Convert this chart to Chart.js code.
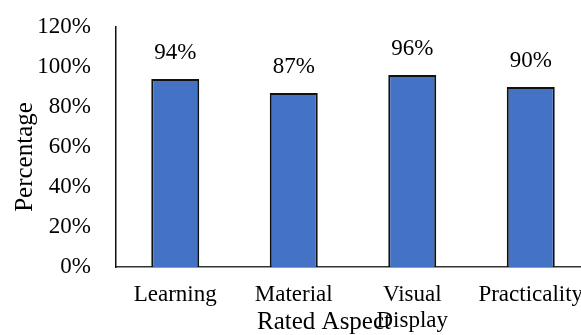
<!DOCTYPE html>
<html lang="en">
<head>
    <meta charset="UTF-8">
    <title>Rated Aspect</title>
    <style>
        html, body {
            margin: 0;
            padding: 0;
            overflow: hidden;
            background: #fff;
        }
        .chart-box {
            width: 600px;
            height: 335px;
        }
    </style>
    <script src="https://cdn.jsdelivr.net/npm/chart.js@4"></script>
</head>
<body>
    <div class="chart-box">
        <canvas id="aspectChart"></canvas>
    </div>

    <script>
        const aspects = ['Learning', 'Material', ['Visual', 'Display'], 'Practicality'];
        const percentages = [94, 87, 96, 90];
        const yTicks = [0, 20, 40, 60, 80, 100, 120];

        const serif = "'Liberation Serif', 'Times New Roman', serif";

        // value text above each bar
        const barValues = {
            id: 'barValues',
            afterDatasetsDraw(chart) {
                const ctx = chart.ctx;
                ctx.save();
                ctx.font = '23px ' + serif;
                ctx.fillStyle = '#000';
                ctx.textAlign = 'center';
                ctx.textBaseline = 'middle';
                chart.getDatasetMeta(0).data.forEach((bar, i) => {
                    ctx.fillText(percentages[i] + '%', bar.x, bar.y - 26);
                });
                ctx.restore();
            }
        };

        // axis titles, placed by hand
        const axisTitles = {
            id: 'axisTitles',
            afterDraw(chart) {
                const ctx = chart.ctx;
                const area = chart.chartArea;
                ctx.save();
                ctx.font = '25px ' + serif;
                ctx.fillStyle = '#000';
                ctx.textAlign = 'center';
                ctx.textBaseline = 'middle';
                ctx.fillText('Rated Aspect', area.left + 208, area.bottom + 55);
                ctx.translate(area.left - 91, area.top + 130);
                ctx.rotate(-Math.PI / 2);
                ctx.fillText('Percentage', 0, 0);
                ctx.restore();
            }
        };

        new Chart(document.getElementById('aspectChart'), {
            type: 'bar',
            data: {
                labels: aspects,
                datasets: [{
                    data: percentages,
                    backgroundColor: '#4472C4',
                    borderColor: '#111',
                    borderWidth: 2,
                    barPercentage: 0.405,
                    categoryPercentage: 1
                }]
            },
            options: {
                responsive: true,
                maintainAspectRatio: false,
                animation: false,
                layout: {
                    padding: { top: 27, right: 10, bottom: 0, left: 0 }
                },
                plugins: {
                    legend: { display: false },
                    tooltip: { enabled: false }
                },
                scales: {
                    x: {
                        grid: { display: false, drawTicks: false },
                        border: { display: true, color: '#333', width: 1.5 },
                        ticks: {
                            color: '#000',
                            padding: 14,
                            maxRotation: 0,
                            autoSkip: false,
                            font: { family: serif, size: 23, lineHeight: 1.17 }
                        },
                        afterFit(scale) {
                            scale.height = 68;
                            scale.paddingLeft = 0;
                            scale.paddingRight = 0;
                        }
                    },
                    y: {
                        min: 0,
                        max: 120,
                        grid: { display: false, drawTicks: false },
                        border: { display: true, color: '#111', width: 1.5 },
                        afterBuildTicks(scale) {
                            scale.ticks = yTicks.map(v => ({ value: v }));
                        },
                        ticks: {
                            color: '#000',
                            padding: 25,
                            font: { family: serif, size: 23 },
                            callback: v => v + '%'
                        },
                        afterFit(scale) {
                            scale.width = 116;
                            scale.paddingTop = 0;
                            scale.paddingBottom = 0;
                        }
                    }
                }
            },
            plugins: [barValues, axisTitles]
        });
    </script>
</body>
</html>
